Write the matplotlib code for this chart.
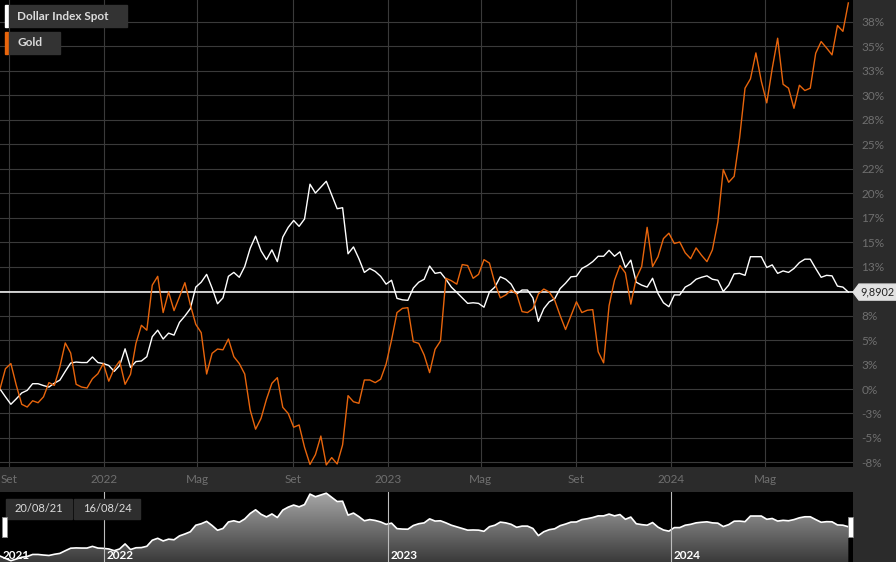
import numpy as np
import pandas as pd
import matplotlib
matplotlib.use('Agg')
import matplotlib.pyplot as plt
from matplotlib.patches import Rectangle, Polygon

plt.rcParams['font.family'] = ['Lato', 'DejaVu Sans']

# weekly closes, % change since 20/08/21
dates = pd.date_range('2021-08-20', '2024-08-16', freq='7D')

dollar = [
    0.0, -0.8, -1.56, -1.0, -0.4, -0.14, 0.54, 0.54, 0.35, 0.2,
    0.6, 0.9, 1.8, 2.65, 2.75, 2.7, 2.7, 3.27, 2.7, 2.6,
    2.4, 1.8, 2.4, 4.1, 2.2, 2.8, 2.86, 3.3, 5.34, 6.0,
    5.1, 5.7, 5.5, 6.8, 7.45, 8.2, 10.4, 10.9, 11.7, 10.3,
    8.7, 9.3, 11.5, 11.9, 11.4, 12.5, 14.35, 15.6, 14.1, 13.2,
    14.2, 13.0, 15.5, 16.5, 17.2, 16.6, 17.35, 20.9, 20.0, 20.6,
    21.2, 19.8, 18.4, 18.5, 13.8, 14.5, 13.3, 11.9, 12.3, 12.0,
    11.5, 10.7, 11.1, 9.25, 9.1, 9.05, 10.3, 10.9, 11.2, 12.55,
    11.8, 11.9, 11.2, 10.4, 9.86, 9.3, 8.74, 8.8, 8.74, 8.35,
    9.9, 10.4, 11.45, 11.2, 10.7, 9.7, 10.1, 10.1, 9.3, 6.9,
    8.2, 8.9, 9.2, 10.25, 10.8, 11.45, 11.5, 12.3, 12.6, 13.0,
    13.55, 13.55, 14.15, 13.55, 14.0, 12.4, 13.15, 10.9, 10.6, 10.4,
    11.3, 9.75, 8.8, 8.4, 9.6, 9.6, 10.4, 10.7, 11.2, 11.4,
    11.55, 11.2, 11.1, 9.95, 10.6, 11.75, 11.8, 11.6, 13.5, 13.5,
    13.5, 12.4, 12.67, 11.8, 12.05, 11.9, 12.3, 12.9, 13.25, 13.25,
    12.3, 11.4, 11.6, 11.55, 10.5, 10.4, 9.8902,
]

gold = [
    0.0, 2.07, 2.6, 0.37, -1.56, -1.84, -1.2, -1.4, -0.8, 0.65,
    0.37, 2.24, 4.7, 3.67, 0.48, 0.2, 0.1, 1.05, 1.56, 2.6,
    0.8, 2.07, 2.86, 0.48, 1.5, 4.66, 6.5, 6.0, 10.6, 11.5,
    7.8, 9.9, 8.0, 9.4, 10.85, 8.6, 6.6, 5.75, 1.53, 3.64,
    4.08, 4.0, 5.1, 3.3, 2.6, 1.53, -2.14, -4.1, -3.0, -1.05,
    0.58, 1.16, -1.87, -2.5, -3.9, -3.67, -5.95, -7.7, -6.7, -4.8,
    -7.75, -7.0, -7.65, -5.7, -0.68, -1.3, -1.46, 0.92, 0.92, 0.65,
    1.0, 2.55, 5.0, 7.8, 8.23, 8.3, 4.83, 4.66, 3.47, 1.67,
    4.05, 4.9, 11.3, 11.05, 10.7, 12.7, 12.6, 11.3, 11.7, 13.2,
    12.85, 10.8, 9.3, 9.6, 10.1, 9.7, 7.9, 7.8, 8.2, 9.7,
    10.2, 9.9, 9.06, 7.5, 6.07, 7.47, 8.9, 7.8, 8.04, 8.1,
    3.8, 2.67, 8.5, 11.1, 12.6, 11.85, 8.66, 11.3, 12.5, 16.5,
    12.5, 13.5, 15.35, 15.9, 14.85, 15.0, 13.9, 13.3, 14.4, 13.65,
    13.0, 14.2, 17.05, 22.4, 21.1, 21.7, 25.6, 30.7, 31.65, 34.3,
    31.4, 29.2, 32.7, 35.8, 31.1, 30.7, 28.65, 31.0, 30.46, 30.7,
    34.27, 35.46, 34.8, 34.1, 37.1, 36.5, 39.4,
]

series_names = ['Dollar Index Spot', 'Gold']
last_label = '9,8902'

x_ticks = ['2021-09-01', '2022-01-01', '2022-05-01', '2022-09-01', '2023-01-01',
           '2023-05-01', '2023-09-01', '2024-01-01', '2024-05-01']
x_labels = ['Set', '2022', 'Mag', 'Set', '2023', 'Mag', 'Set', '2024', 'Mag']

y_ticks = [37.5, 35, 32.5, 30, 27.5, 25, 22.5, 20, 17.5, 15, 12.5, 10,
           7.5, 5, 2.5, 0, -2.5, -5, -7.5]
y_labels = ['38%', '35%', '33%', '30%', '28%', '25%', '22%', '20%', '17%', '15%',
            '13%', '', '8%', '5%', '3%', '0%', '-3%', '-5%', '-8%']

nav_years = ['2021-08-20', '2022-01-01', '2023-01-01', '2024-01-01']
nav_year_labels = ['2021', '2022', '2023', '2024']
range_labels = ['20/08/21', '16/08/24']

W, H = 896, 562
BG = '#2b2b2b'
GRID = '#3a3a3a'
ORANGE = '#e8650c'
TICKC = '#6f6f6f'


def fr(x, y):
    # top-left pixel -> figure fraction
    return x / W, 1 - y / H


fig = plt.figure(figsize=(W / 100, H / 100), dpi=100, facecolor=BG)

ax = fig.add_axes([0, (H - 467) / H, 853 / W, 467 / H], facecolor='black')
xmin = pd.Timestamp('2021-08-20')
xmax = pd.Timestamp('2024-08-22')

ax.plot(dates, dollar, color='white', lw=1.0, zorder=3)
ax.plot(dates, gold, color=ORANGE, lw=1.0, zorder=3)
ax.axhline(dollar[-1], color='white', lw=1.1, zorder=2)

ax.set_xlim(xmin, xmax)
ax.set_ylim(-7.96, 39.7)
ax.set_yticks(y_ticks)
ax.set_yticklabels(y_labels)
ax.set_xticks(pd.to_datetime(x_ticks))
ax.set_xticklabels(x_labels)
ax.yaxis.tick_right()
ax.grid(True, color=GRID, lw=0.8)
ax.tick_params(axis='y', length=0, pad=6, labelsize=8.5, labelcolor=TICKC)
ax.tick_params(axis='x', length=0, pad=5, labelsize=8.5, labelcolor=TICKC)
for s in ax.spines.values():
    s.set_visible(False)

# legend boxes
for i, (name, col) in enumerate(zip(series_names, ['white', ORANGE])):
    top = 5 + i * 27
    w = 118 if i == 0 else 51
    x0, y0 = fr(5, top + 22)
    fig.patches.append(Rectangle((x0, y0), 3 / W, 22 / H, transform=fig.transFigure,
                                 color=col, zorder=5))
    x1, _ = fr(9, 0)
    fig.patches.append(Rectangle((x1, y0), w / W, 22 / H, transform=fig.transFigure,
                                 color='#333333', zorder=5))
    tx, ty = fr(17, top + 11)
    fig.text(tx, ty, name, color='#dcdcdc', fontsize=8.5, fontweight='bold',
             va='center', ha='left', zorder=6)

# last value tag
fig.canvas.draw()
_, yd = ax.transData.transform((0, dollar[-1]))
ty = H - yd
tag = [(853, ty), (859, ty - 8), (W, ty - 8), (W, ty + 8), (859, ty + 8)]
fig.patches.append(Polygon([fr(*p) for p in tag], closed=True, transform=fig.transFigure,
                           color='#e2e2e2', zorder=5))
fig.text(*fr(860, ty), last_label, color='#222222', fontsize=7.8, va='center',
         ha='left', zorder=6)

# navigator
nav = fig.add_axes([0, 0, 853 / W, 70 / H], facecolor='black')
nav.set_xlim(xmin, xmax)
nav.set_ylim(-2.0, 21.6)
fill = nav.fill_between(dates, dollar, -2.0, color='none')
grad = np.linspace(0, 1, 256).reshape(-1, 1)
img = nav.imshow(grad, cmap=matplotlib.colors.LinearSegmentedColormap.from_list(
    'g', ['#3a3a3a', '#a8a8a8']), origin='lower', aspect='auto',
    extent=[matplotlib.dates.date2num(xmin), matplotlib.dates.date2num(xmax), -2.0, 21.6],
    zorder=1)
img.set_clip_path(fill.get_paths()[0], transform=nav.transData)
nav.plot(dates, dollar, color='white', lw=1.2, zorder=3)
nav.set_xlim(xmin, xmax)
for d, lab in zip(nav_years, nav_year_labels):
    d = pd.Timestamp(d)
    if lab != nav_year_labels[0]:
        nav.axvline(d, color='#bdbdbd', lw=0.8, zorder=4)
    nav.annotate(lab, (d, 0), xycoords=('data', 'axes fraction'), xytext=(2, 2),
                 textcoords='offset points', color='white', fontsize=8.5,
                 fontweight='bold', zorder=6)
nav.set_xticks([])
nav.set_yticks([])
for s in nav.spines.values():
    s.set_visible(False)

# range boxes
for i, lab in enumerate(range_labels):
    bx = 6 + i * 68
    x0, y0 = fr(bx, 519)
    fig.patches.append(Rectangle((x0, y0), 66 / W, 20 / H, transform=fig.transFigure,
                                 color='#2e2e2e', zorder=5))
    fig.text(*fr(bx + 33, 509), lab, color='#dcdcdc', fontsize=8, ha='center',
             va='center', zorder=6)

# handles
for hx in (2, 848):
    x0, y0 = fr(hx, 537)
    fig.patches.append(Rectangle((x0, y0), 5 / W, 20 / H, transform=fig.transFigure,
                                 fc='white', ec='#888888', lw=0.6, zorder=6))

fig.savefig('out.png', dpi=100, facecolor=BG)
